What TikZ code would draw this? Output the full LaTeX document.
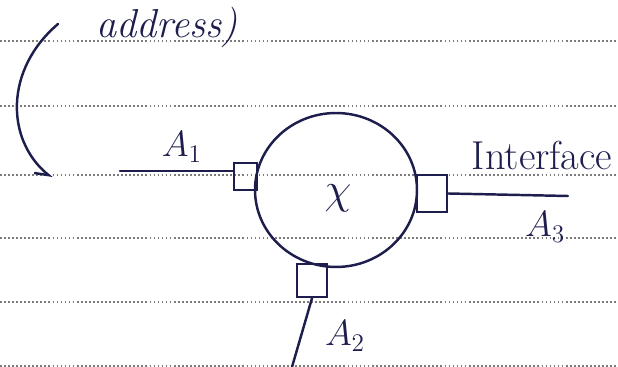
\documentclass[tikz,border=0pt]{standalone}
\usepackage{tikz}
\usepackage{amsmath}
\usepackage{xcolor}
\usetikzlibrary{
  positioning,
  arrows.meta,
  calc,
  shapes.geometric
}
\definecolor{inkBlue}{HTML}{1E1E4E}
\definecolor{ruleGray}{HTML}{7C7C7C}
\tikzset{
  rule/.style    = {draw=ruleGray, line width=1.2pt, dash pattern=on 1pt off 1.3pt},
  ink/.style     = {draw=inkBlue, line width=1.4pt, line cap=round, line join=round},
  host/.style    = {ellipse, draw=inkBlue, line width=1.4pt,
                    minimum width=3.24cm, minimum height=3.08cm, inner sep=0pt},
  port/.style    = {rectangle, draw=inkBlue, line width=1.4pt, inner sep=0pt},
  hand/.style    = {text=inkBlue, inner sep=1pt, font=\fontsize{20}{24}\selectfont\itshape},
  curlArrow/.style = {ink, -{Straight Barb[harpoon, swap, length=2.5mm, width=3mm]}}
}

\begin{document}
\begin{tikzpicture}[x=0.02cm, y=-0.02cm]
\useasboundingbox (0,0) rectangle (618,367);

% ruled paper
\foreach \ry in {41,106,175,238,302,366}
  \draw[rule] (0,\ry) -- (618,\ry);

% host with its three interfaces
\node[host] (host) at (336,190) {};
\node[hand, font=\fontsize{26}{30}\selectfont] (hostName) at (338,198) {$\chi$};

\node[port, minimum width=0.46cm, minimum height=0.54cm] (port1) at (245.5,176.5) {};
\node[port, minimum width=0.60cm, minimum height=0.74cm] (port3) at (432,193.5) {};
\node[port, minimum width=0.60cm, minimum height=0.66cm] (port2) at (312,280.5) {};

% links
\coordinate (a1End) at (120,171);
\coordinate (a3End) at (568,196);
\coordinate (a2End) at (292,367);
\draw[ink] (a1End) -- (a1End -| port1.west);
\draw[ink] (port3.east) -- (a3End);
\draw[ink] (port2.south) -- (a2End);

% labels
\node[hand, font=\fontsize{23}{27}\selectfont\itshape] (addrText) at (167,27) {address)};
\node[hand, font=\fontsize{21}{25}\selectfont] (a1Label) at (182,147) {$A_1$};
\node[hand, font=\fontsize{21}{25}\selectfont] (a3Label) at (545,227) {$A_3$};
\node[hand, font=\fontsize{21}{25}\selectfont] (a2Label) at (345,336) {$A_2$};
\node[hand, font=\fontsize{23}{27}\selectfont] (ifText) at (542,155) {Interface};

% pointer from the note above
\coordinate (curlStart) at (58,24);
\coordinate (curlEnd) at (52,178);
\draw[curlArrow] (curlStart) .. controls (4,70) and (6,140) .. (curlEnd);
\end{tikzpicture}
\end{document}
